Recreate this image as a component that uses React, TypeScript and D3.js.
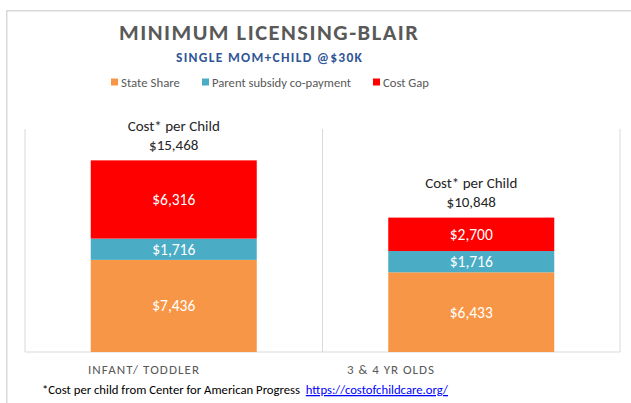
import React from 'react';
import * as d3 from 'd3';

const categories = ['INFANT/ TODDLER', '3 & 4 YR OLDS'];
const seriesNames = ['State Share', 'Parent subsidy co-payment', 'Cost Gap'];
const stateShare = [7436, 6433];
const parentCopay = [1716, 1716];
const costGap = [6316, 2700];
const totalCost = [15468, 10848];
const colors = ['#F79646', '#4BACC6', '#FF0000'];
const yMax = 18000;

const W = 631, H = 403;
const plot = { left: 25, right: 620, top: 129, bottom: 352 };
const FONT = "Carlito, Calibri, 'Liberation Sans', Arial, sans-serif";

const fmt = (v: number) => '$' + d3.format(',')(v);

export default function App() {
  const x = d3.scaleBand<string>().domain(categories).range([plot.left, plot.right]).paddingInner(0).paddingOuter(0);
  const y = d3.scaleLinear().domain([0, yMax]).range([plot.bottom, plot.top]);
  const bw = x.bandwidth();
  const barW = bw * 0.558;

  const rows = categories.map((c, i) => ({ cat: c, s0: stateShare[i], s1: parentCopay[i], s2: costGap[i] }));
  const stack = d3.stack<any>().keys(['s0', 's1', 's2']);
  const layers = stack(rows);

  const boundaries = [...categories.map(c => x(c)!), plot.right];
  const labelX = [143.5, 390.5];
  const labelLen = [111, 87];
  const legendX = [111, 202, 373];
  const legendLen = [59, 139, 46];

  return (
    <svg width={W} height={H} style={{ position: 'absolute', left: 0, top: 0, background: '#fff' }} fontFamily={FONT}>
      <rect x={0} y={0} width={W} height={H} fill="#fff" />
      {/* outer frame */}
      <path d={`M6.75,${H + 2}V10.75H${W + 2}`} fill="none" stroke="#D9D9D9" strokeWidth={1.5} />
      {/* title */}
      <text x={268.5} y={39.5} textAnchor="middle" fontSize={22.5} fontWeight="bold" fill="#595959" textLength={299} lengthAdjust="spacing">MINIMUM LICENSING-BLAIR</text>
      <text x={269} y={62} textAnchor="middle" fontSize={13.5} fontWeight="bold" fill="#2F5597" textLength={186} lengthAdjust="spacing">SINGLE MOM+CHILD @$30K</text>
      {/* legend */}
      {seriesNames.map((n, i) => (
        <g key={n}>
          <rect x={legendX[i]} y={78.5} width={7} height={7} fill={colors[i]} />
          <text x={legendX[i] + 10} y={86.5} fontSize={13} fill="#595959" textLength={legendLen[i]} lengthAdjust="spacingAndGlyphs">{n}</text>
        </g>
      ))}
      {/* gridlines */}
      {boundaries.map((b, i) => (
        <line key={i} x1={b} x2={b} y1={plot.top} y2={plot.bottom} stroke="#D9D9D9" strokeWidth={1} />
      ))}
      <line x1={plot.left} x2={plot.right} y1={plot.bottom} y2={plot.bottom} stroke="#D9D9D9" strokeWidth={1} />
      {/* bars */}
      {layers.map((layer, li) => (
        <g key={li}>
          {layer.map((d, i) => {
            const x0 = x(categories[i])! + (bw - barW) / 2;
            const yTop = y(d[1]);
            const yBot = y(d[0]);
            return (
              <g key={i}>
                <rect x={x0} y={yTop} width={barW} height={yBot - yTop} fill={colors[li]} />
                <text x={x0 + barW / 2} y={(yTop + yBot) / 2 + 5.5} textAnchor="middle" fontSize={15.5} fill="#fff">{fmt(d[1] - d[0])}</text>
              </g>
            );
          })}
        </g>
      ))}
      {/* cost labels */}
      {categories.map((c, i) => {
        const cx = x(c)! + bw / 2;
        const top = y(totalCost[i]);
        return (
          <g key={c}>
            <text x={cx} y={top - 29.5} textAnchor="middle" fontSize={15} fill="#262626">Cost* per Child</text>
            <text x={cx} y={top - 10.5} textAnchor="middle" fontSize={15} fill="#262626">{fmt(totalCost[i])}</text>
          </g>
        );
      })}
      {/* category labels */}
      {categories.map((c, i) => (
        <text key={c} x={labelX[i]} y={374} textAnchor="middle" fontSize={13} fill="#595959" textLength={labelLen[i]} lengthAdjust="spacing">{c}</text>
      ))}
      {/* footnote */}
      <text x={42} y={394} fontSize={12.7} fill="#000">*Cost per child from Center for American Progress</text>
      <text x={448} y={394} fontSize={12.7} fill="#0000FF" textDecoration="underline" textAnchor="end">https://costofchildcare.org/</text>
    </svg>
  );
}
